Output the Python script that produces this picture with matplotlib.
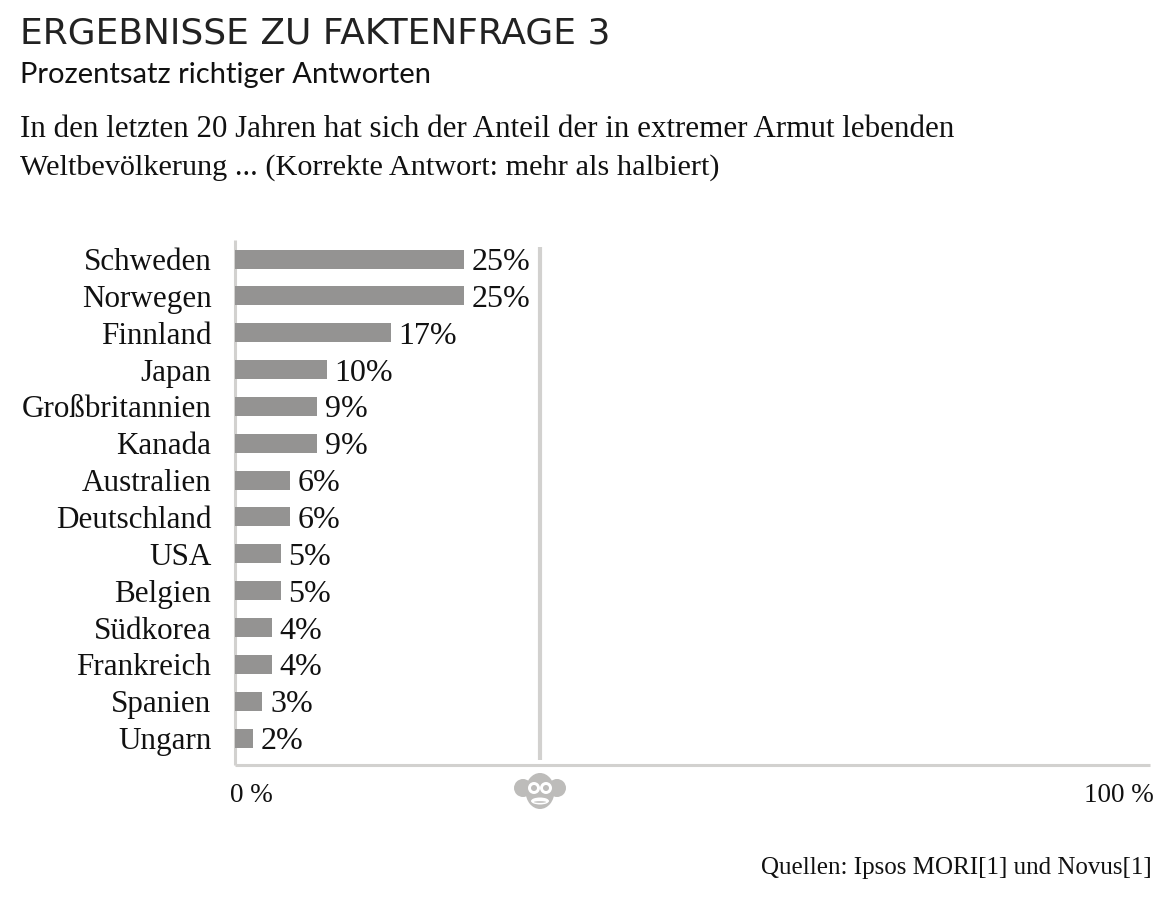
import matplotlib
matplotlib.use("Agg")
import matplotlib.pyplot as plt
from matplotlib.patches import Circle, Ellipse
from matplotlib.transforms import Affine2D

countries = ["Schweden", "Norwegen", "Finnland", "Japan", "Großbritannien", "Kanada", "Australien",
             "Deutschland", "USA", "Belgien", "Südkorea", "Frankreich", "Spanien", "Ungarn"]
values = [25, 25, 17, 10, 9, 9, 6, 6, 5, 5, 4, 4, 3, 2]
chimp_share = 33.3
title = "ERGEBNISSE ZU FAKTENFRAGE 3"
subtitle = "Prozentsatz richtiger Antworten"
question = ["In den letzten 20 Jahren hat sich der Anteil der in extremer Armut lebenden",
            "Weltbevölkerung ... (Korrekte Antwort: mehr als halbiert)"]
source = "Quellen: Ipsos MORI[1] und Novus[1]"

W, H = 1175, 899
SERIF = "Liberation Serif"
SANS = "Lato"
BAR = "#949392"
LINE = "#d2d1cf"
INK = "#111111"
ICON = "#bdbcba"

fig = plt.figure(figsize=(W / 100, H / 100), dpi=100, facecolor="white")
L, R, T, B = 235, 1150, 240, 765
ax = fig.add_axes([L / W, 1 - B / H, (R - L) / W, (B - T) / H])
ax.set_xlim(0, 100)
ypos = list(range(len(countries)))
ax.set_ylim(13.73, -0.516)
ax.barh(ypos, values, height=0.515, color=BAR, zorder=3)
for y, v in zip(ypos, values):
    ax.annotate(f"{v}%", (v, y), xytext=(5.5, 0), textcoords="offset points", va="center_baseline",
                ha="left", fontsize=23, family=SERIF, color=INK)
ax.plot([chimp_share, chimp_share], [-0.33, 13.6], color=LINE, lw=3, solid_capstyle="butt", zorder=2)
ax.set_yticks(ypos)
ax.set_yticklabels(countries, fontsize=22.4, family=SERIF, color=INK)
ax.tick_params(axis="y", length=0, pad=17)
ax.set_xticks([])
for s in ("top", "right"):
    ax.spines[s].set_visible(False)
for s in ("left", "bottom"):
    ax.spines[s].set_color(LINE)
    ax.spines[s].set_linewidth(2.2)
    ax.spines[s].set_capstyle("butt")


def px(x, y, s, **kw):
    fig.text(x / W, 1 - y / H, s, **kw)


px(20, 44, title, fontsize=25.9, family="DejaVu Sans", color="#222222", va="baseline")
px(20, 83, subtitle, fontsize=21, family=SANS, color=INK, va="baseline")
px(20, 137, question[0], fontsize=22.35, family=SERIF, color=INK, va="baseline")
px(20, 175, question[1], fontsize=21.75, family=SERIF, color=INK, va="baseline")
px(230, 802, "0 %", fontsize=19.5, family=SERIF, color=INK, va="baseline")
px(1154, 802, "100 %", fontsize=19.5, family=SERIF, color=INK, va="baseline", ha="right")
px(1152, 874, source, fontsize=18, family=SERIF, color=INK, va="baseline", ha="right")

# monkey icon, drawn in pixel coordinates
pix = Affine2D().scale(1, -1).translate(0, H)
def shape(p):
    p.set_transform(pix)
    fig.add_artist(p)

cx, cy = 540, 791
shape(Circle((cx - 17, cy - 3), 9, fc=ICON, ec="none"))
shape(Circle((cx + 17, cy - 3), 9, fc=ICON, ec="none"))
shape(Ellipse((cx, cy), 29, 36, fc=ICON, ec="none"))
shape(Circle((cx - 6, cy - 3), 6, fc="white", ec="none"))
shape(Circle((cx + 6, cy - 3), 6, fc="white", ec="none"))
shape(Circle((cx - 6, cy - 3), 3, fc=ICON, ec="none"))
shape(Circle((cx + 6, cy - 3), 3, fc=ICON, ec="none"))
shape(Ellipse((cx, cy + 10), 18, 7, fc="white", ec="none"))
shape(Ellipse((cx, cy + 11), 12, 1.6, fc=ICON, ec="none"))

fig.savefig("out.png", dpi=100, facecolor="white")
